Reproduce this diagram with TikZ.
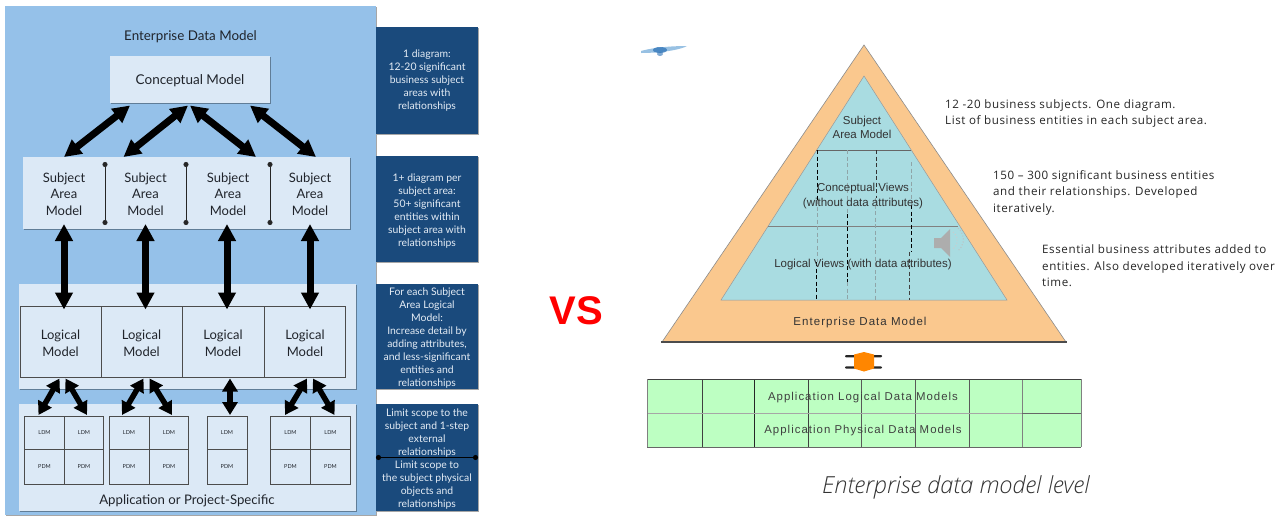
\documentclass[tikz,border=0pt]{standalone}
\usepackage{fontspec}
\setmainfont{Lato}
\newfontfamily\arl{Liberation Sans}
\newfontfamily\arlsp[LetterSpace=9]{Liberation Sans}
\newfontfamily\calb[LetterSpace=5]{Open Sans}
\newfontfamily\capt{Open Sans Light}[ItalicFont=Open Sans Light Italic]
\usetikzlibrary{arrows.meta,calc,shadows}
\newcommand{\fs}[2]{\fontsize{#1}{#2}\selectfont}
\newcommand{\dn}[1]{\rule{0pt}{#1pt}}
\definecolor{panel}{HTML}{95C1E9}
\definecolor{lightbox}{HTML}{DCE9F6}
\definecolor{navy}{HTML}{1A4A7C}
\definecolor{navytext}{HTML}{E4ECF5}
\definecolor{inktext}{HTML}{20242B}
\definecolor{orangetri}{HTML}{FAC88E}
\definecolor{tealtri}{HTML}{A9DCE1}
\definecolor{greentab}{HTML}{BDFFC2}
\definecolor{dashg}{HTML}{8FA5A8}
\definecolor{smudgeA}{HTML}{7FB2DC}
\definecolor{smudgeB}{HTML}{2F74B8}
\tikzset{
  x=1pt,y=-1pt,
  softshadow/.style={drop shadow={shadow xshift=0.6pt,shadow yshift=-1.2pt,opacity=.35,fill=black}},
  lightpanel/.style={fill=lightbox,inner sep=0,outer sep=0,softshadow},
  cellsubj/.style={inner sep=0,outer sep=0,align=center,text=inktext,font=\fs{13}{16.5}},
  celllog/.style={draw=black!70,line width=.7pt,fill=lightbox,inner sep=0,outer sep=0,align=center,text=inktext,font=\fs{13}{16.5}},
  smallcell/.style={draw=black!70,line width=.7pt,fill=lightbox,inner sep=0,outer sep=0,text=inktext,font=\fs{5.5}{6}},
  navybox/.style={fill=navy,inner sep=0,outer sep=0,text=navytext,align=center,font=\fs{10.4}{13},softshadow},
  bigarrow/.style={line width=7pt,{Triangle[length=17pt,width=17pt]}-{Triangle[length=17pt,width=17pt]}},
  midarrow/.style={line width=5.5pt,{Triangle[length=13pt,width=15pt]}-{Triangle[length=13pt,width=15pt]}},
  divider/.style={line width=.8pt,black!85,{Circle[length=5pt]}-{Circle[length=5pt]}},
  trilabel/.style={inner sep=0,text=black!80,font=\arl\fs{11.5}{15},align=center},
  sidenote/.style={inner sep=0,anchor=north west,align=left,text=black!85,font=\calb\fs{11.6}{16.5}},
  tabline/.style={line width=.8pt,black!70},
  tridash/.style={line width=.8pt,dash pattern=on 4pt off 2.5pt},
}
\begin{document}
\begin{tikzpicture}
\useasboundingbox (0,0) rectangle (1280,515);
\fill[white] (0,0) rectangle (1280,515);
% ---------- left panel
\fill[panel,softshadow] (5,6) rectangle (376,515);
\node[inner sep=0,text=inktext,font=\fs{13.4}{16}] (edm) at (190.5,36.5) {Enterprise Data Model};
\node[lightpanel,minimum width=160,minimum height=47,text=inktext,font=\fs{13.5}{16},text depth=0pt] (cm) at (190,79) {\raisebox{-2pt}{Conceptual Model}};
% subject row
\fill[lightbox,softshadow] (23,157) rectangle (350,229);
\node[cellsubj,minimum width=82,minimum height=72] (s1) at (64,194) {Subject\\Area\\Model};
\node[cellsubj,minimum width=81,minimum height=72] (s2) at (145.5,194) {Subject\\Area\\Model};
\node[cellsubj,minimum width=84,minimum height=72] (s3) at (228,194) {Subject\\Area\\Model};
\node[cellsubj,minimum width=80,minimum height=72] (s4) at (310,194) {Subject\\Area\\Model};
\draw[divider] (105,162) -- (105,225);
\draw[divider] (186,162) -- (186,225);
\draw[divider] (270,162) -- (270,225);
% logical row
\fill[lightbox,softshadow] (19,284) rectangle (356,389);
\node[celllog,minimum width=81,minimum height=71] (l1) at (60.5,342) {\dn{12}Logical\\Model};
\node[celllog,minimum width=81,minimum height=71] (l2) at (141.5,342) {\dn{12}Logical\\Model};
\node[celllog,minimum width=82,minimum height=71] (l3) at (223,342) {\dn{12}Logical\\Model};
\node[celllog,minimum width=81,minimum height=71] (l4) at (305,342) {\dn{12}Logical\\Model};
% application row
\fill[lightbox,softshadow] (19,404) rectangle (356,511);
\foreach \n/\cx/\w/\tag in {a/44.5/39.5/LDM,b/84/39.5/LDM,e/129/40/LDM,f/169/39/LDM,i/227/40/LDM,m/290.5/40/LDM,n/330.5/40/LDM}{
  \node[smallcell,minimum width=\w,minimum height=33] (\n) at (\cx,432.5) {\tag};
}
\foreach \n/\cx/\w/\tag in {c/44.5/39.5/PDM,d/84/39.5/PDM,g/129/40/PDM,h/169/39/PDM,j/227/40/PDM,o/290.5/40/PDM,p/330.5/40/PDM}{
  \node[smallcell,minimum width=\w,minimum height=35] (\n) at (\cx,466.5) {\tag};
}
\node[inner sep=0,text=inktext,font=\fs{13.2}{16}] (apl) at (187,501) {Application or Project-Specific};
% connectors
\draw[bigarrow] ($(cm.south west)+(20,3)$) -- ($(s1.north)+(0,-1)$);
\draw[bigarrow] ($(cm.south)+(-2,3)$) -- ($(s2.north)+(-22,-1)$);
\draw[bigarrow] ($(cm.south)+(0,3)$) -- ($(s3.north)+(28,-1)$);
\draw[bigarrow] ($(cm.south east)+(-20,3)$) -- ($(s4.north)+(6,-1)$);
\draw[bigarrow] ($(s1.south)+(0,-6)$) -- ($(s1.south |- l1.north)+(0,3)$);
\draw[bigarrow] ($(s2.south)+(0,-6)$) -- ($(s2.south |- l2.north)+(0,3)$);
\draw[bigarrow] ($(s3.south)+(-1,-6)$) -- ($(s3.south |- l3.north)+(-1,3)$);
\draw[bigarrow] ($(s4.south)+(0,-6)$) -- ($(s4.south |- l4.north)+(0,3)$);
\draw[midarrow] ($(l1.south)+(-1,1)$) -- ($(a.north)+(-6,-1)$);
\draw[midarrow] ($(l1.south)+(5,1)$) -- ($(b.north)+(3,-1)$);
\draw[midarrow] ($(l2.south)+(2,1)$) -- ($(e.north)+(-7,-1)$);
\draw[midarrow] ($(l2.south)+(8,1)$) -- ($(f.north)+(3,-1)$);
\draw[midarrow] ($(l3.south)+(7,1)$) -- ($(i.north)+(3,-1)$);
\draw[midarrow] ($(l4.south)+(2,1)$) -- ($(m.north)+(-5.5,-1)$);
\draw[midarrow] ($(l4.south)+(8,1)$) -- ($(n.north)+(4,-1)$);
% navy notes
\node[navybox,minimum width=102,minimum height=107] (n1) at (427,80.5) {\fs{10.4}{14}1 diagram:\\12-20 significant\\business subject\\areas with\\relationships};
\node[navybox,minimum width=102,minimum height=106] (n2) at (427,209) {\dn{11.7}1+ diagram per\\subject area:\\50+ significant\\entities within\\subject area with\\relationships};
\node[navybox,minimum width=102,minimum height=105] (n3) at (427,336.5) {\dn{11.7}For each Subject\\Area Logical\\Model:\\Increase detail by\\adding attributes,\\and less-significant\\entities and\\relationships};
\node[navybox,minimum width=102,minimum height=107] (n4) at (427,457.5) {\dn{10}Limit scope to the\\subject and 1-step\\external\\relationships\\Limit scope to\\the subject physical\\objects and\\relationships};
\draw[line width=.9pt,black,{Circle[length=5pt]}-{Circle[length=5pt]}] (n4.west) -- (n4.east);
% VS
\node[inner sep=0,text=red,font=\arl\bfseries\fs{40}{40}] (vs) at (576,311) {VS};
% ---------- smudge
\fill[smudgeA,opacity=.8] (641,51) .. controls (655,47) and (675,46) .. (687,46) .. controls (680,50) and (660,53) .. (641,53) -- cycle;
\fill[smudgeB,opacity=.75] (660,50) ellipse (7 and 3);
\fill[smudgeB,opacity=.6] (660,54) ellipse (3 and 2);
% ---------- pyramid
\fill[orangetri] (864,45) -- (1066,342) -- (662,342) -- cycle;
\draw[line width=.6pt,black!45] (1066,342) -- (864,45) -- (662,342);
\draw[line width=1.2pt,black!70] (661,342) -- (1067,342);
\fill[tealtri] (864,76) -- (1007,300) -- (721,300) -- cycle;
\draw[line width=.5pt,black!40] (721,300) -- (864,76) -- (1007,300) -- cycle;
\draw[line width=.8pt,black!60] (816,150) -- (911,150);
\draw[line width=.8pt,black!50] (768,226) -- (958,226);
% dashes
\draw[tridash,black] (817,150) -- (817,200);
\draw[tridash,dashg] (817,200) -- (817,262);
\draw[tridash,black] (816,262) -- (816,300);
\draw[tridash,dashg] (847,150) -- (847,214);
\draw[tridash,black] (847,214) -- (847,282);
\draw[tridash,dashg] (847,282) -- (847,300);
\draw[tridash,black!80] (876,150) -- (876,198);
\draw[tridash,dashg] (875,198) -- (875,300);
\draw[tridash,dashg] (911,162) -- (911,205);
\draw[tridash,black] (911,205) -- (911,252);
\draw[tridash,black!75] (909,252) -- (909,300);
% labels
\node[trilabel,font=\arl\fs{11.5}{14}] (t1) at (862,127) {Subject\\Area Model};
\node[trilabel] (t2) at (863,196.5) {Conceptual Views\\(without data attributes)};
\node[trilabel] (t3) at (863,264.5) {Logical Views (with data attributes)};
\node[inner sep=0,text=black!80,font=\arlsp\fs{11.5}{14}] (t4) at (860,322.5) {Enterprise Data Model};
% speaker
\fill[black!32] (934,238) -- (941,238) -- (950,229) -- (950,257) -- (941,248) -- (934,248) -- cycle;
\draw[line width=1pt,black!20,dotted] (953,232) arc (-50:50:12 and 11);
\draw[line width=1pt,black!25,dotted] (958,228) arc (-50:50:15 and 15);
% double arrow
\fill[black!85,rounded corners=1pt] (845,355) rectangle (882,357.4);
\fill[black!85,rounded corners=1pt] (845,366.3) rectangle (882,368.7);
\fill[orange!95!yellow] (854,356) -- (854,354.5) -- (864,352) -- (874,354.5) -- (874,368.5) -- (864,371.5) -- (854,368.5) -- cycle;
% table
\fill[greentab] (647,379) rectangle (1081,447);
\foreach \xx/\sh in {702/75,754/85,808/75,861/65,915/65,969/65,1022/50}{
  \draw[tabline,black!\sh] (\xx,379) -- (\xx,447);
}
\draw[line width=.7pt,black!35] (647,413) -- (1022,413);
\draw[line width=.8pt,black!60] (1022,413) -- (1081,413);
\draw[line width=1pt,black!75] (647,379) -- (1081,379);
\draw[line width=1pt,black!60] (647,447) -- (1081,447);
\draw[line width=.7pt,black!50] (647,379) -- (647,447) (1081,379) -- (1081,447);
\node[inner sep=0,text=black!75,font=\arlsp\fs{11.4}{14}] (a1) at (863,398) {Application Logical Data Models};
\node[inner sep=0,text=black!75,font=\arlsp\fs{11.4}{14}] (a2) at (863,431) {Application Physical Data Models};
% right notes
\node[sidenote] (r1) at (945,99) {12 -20 business subjects. One diagram.\\List of business entities in each subject area.};
\node[sidenote] (r2) at (993,170) {150 – 300 significant  business entities\\and their relationships. Developed\\iteratively.};
\node[sidenote] (r3) at (1042,244.5) {Essential business attributes added to\\entities. Also developed iteratively over\\time.};
\node[inner sep=0,text=black!80,font=\capt\itshape\fs{23.5}{26}] (cap) at (956,487) {Enterprise data model level};
\end{tikzpicture}
\end{document}
